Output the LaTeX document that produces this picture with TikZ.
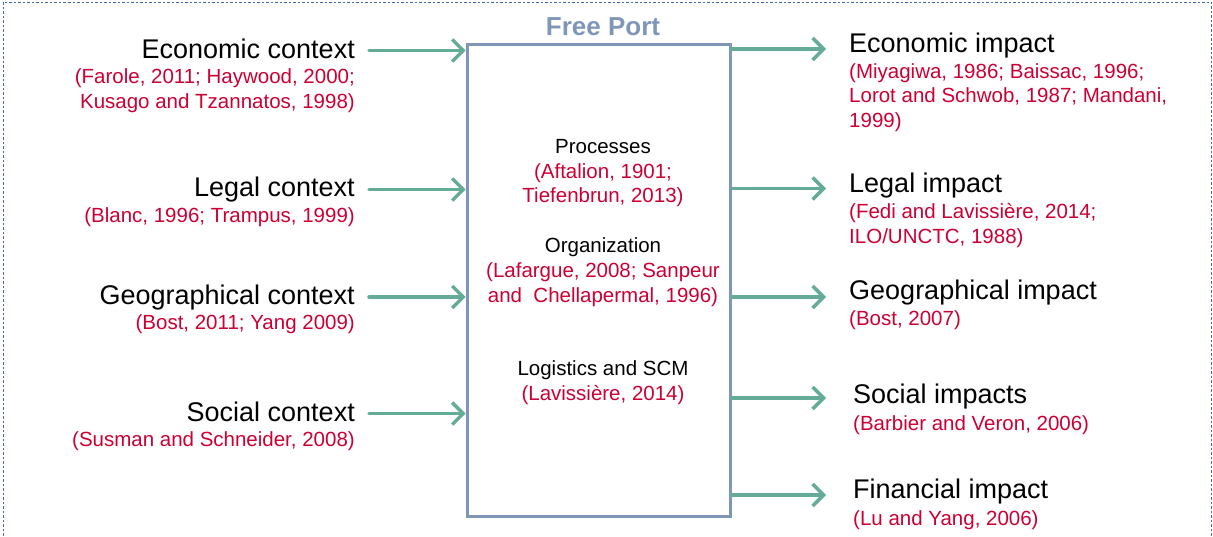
\documentclass[tikz,border=0pt]{standalone}
\usepackage{fontspec}
\setmainfont{Liberation Sans}
\usetikzlibrary{arrows.meta}
\definecolor{arrowteal}{RGB}{100,172,152}
\definecolor{boxblue}{RGB}{127,150,185}
\definecolor{citered}{RGB}{204,0,51}
\definecolor{borderblue}{RGB}{70,105,160}
\begin{document}
\begin{tikzpicture}[x=1pt,y=-1pt,
  head/.style={font=\fontsize{27}{30}\selectfont, inner sep=0pt},
  cite/.style={font=\fontsize{20.5}{24.5}\selectfont, text=citered, inner sep=0pt},
  sub/.style={font=\fontsize{20.5}{24.5}\selectfont, inner sep=0pt},
  arr/.style={draw=arrowteal, line width=3.5pt, line cap=round,
    -{Straight Barb[length=11pt,width=22pt,line width=3.5pt]}},
  border/.style={draw=borderblue, line width=0.9pt, dash pattern=on 2.5pt off 2pt}
]
\useasboundingbox (0,0) rectangle (1213,536);
\draw[border] (3,540) -- (3,2) -- (1211,2) -- (1211,540);

% central box
\node[draw=boxblue, line width=3pt, minimum width=263pt, minimum height=472pt,
      inner sep=0pt, anchor=north west] (fp) at (465.7,43.3) {};
\node[font=\fontsize{26}{30}\selectfont\bfseries, text=boxblue, anchor=base] (title) at (603,35) {Free Port};

% box contents (multi-line nodes: base = last line)
\node[sub, anchor=base] (proc) at (603,153) {Processes};
\node[cite, anchor=base, align=center] (procc) at (603,202.5) {(Aftalion, 1901;\\Tiefenbrun, 2013)};
\node[sub, anchor=base] (org) at (603,252) {Organization};
\node[cite, anchor=base, align=center] (orgc) at (603,302) {(Lafargue, 2008; Sanpeur\\and\ \ Chellapermal, 1996)};
\node[sub, anchor=base] (log) at (603,375) {Logistics and SCM};
\node[cite, anchor=base, align=center] (logc) at (603,400) {(Lavissière, 2014)};

% left context labels
\node[head, anchor=base east] (ec) at (355,58) {Economic context};
\node[cite, anchor=base east, align=right] (ecc) at (355,108) {(Farole, 2011; Haywood, 2000;\\Kusago and Tzannatos, 1998)};
\node[head, anchor=base east] (lc) at (355,196.5) {Legal context};
\node[cite, anchor=base east] (lcc) at (355,222) {(Blanc, 1996; Trampus, 1999)};
\node[head, anchor=base east] (gc) at (355,304.5) {Geographical context};
\node[cite, anchor=base east] (gcc) at (355,329) {(Bost, 2011; Yang 2009)};
\node[head, anchor=base east] (sc) at (355,421) {Social context};
\node[cite, anchor=base east] (scc) at (355,446.5) {(Susman and Schneider, 2008)};

% right impact labels
\node[head, anchor=base west] (ei) at (849,52) {Economic impact};
\node[cite, anchor=base west, align=left] (eic) at (849,127) {(Miyagiwa, 1986; Baissac, 1996;\\Lorot and Schwob, 1987; Mandani,\\1999)};
\node[head, anchor=base west] (li) at (849,192.5) {Legal impact};
\node[cite, anchor=base west, align=left] (lic) at (849,243) {(Fedi and Lavissière, 2014;\\ILO/UNCTC, 1988)};
\node[head, anchor=base west] (gi) at (849,299.5) {Geographical impact};
\node[cite, anchor=base west] (gic) at (849,325) {(Bost, 2007)};
\node[head, anchor=base west] (si) at (853,403) {Social impacts};
\node[cite, anchor=base west] (sic) at (853,430) {(Barbier and Veron, 2006)};
\node[head, anchor=base west] (fi) at (853,498) {Financial impact};
\node[cite, anchor=base west] (fic) at (853,525) {(Lu and Yang, 2006)};

% arrows in
\coordinate (l1) at (369,50.5);
\coordinate (l2) at (369,189.5);
\coordinate (l3) at (369,297);
\coordinate (l4) at (369,413.5);
\foreach \c in {l1,l2,l3,l4}
  \draw[arr] (\c) -- (\c -| fp.west);

% arrows out
\coordinate (r1) at (826,49);
\coordinate (r2) at (826,188.5);
\coordinate (r3) at (826,297);
\coordinate (r4) at (826,398);
\coordinate (r5) at (826,495);
\foreach \c in {r1,r2,r3,r4,r5}
  \draw[arr] (\c -| fp.east) -- (\c);
\end{tikzpicture}
\end{document}
